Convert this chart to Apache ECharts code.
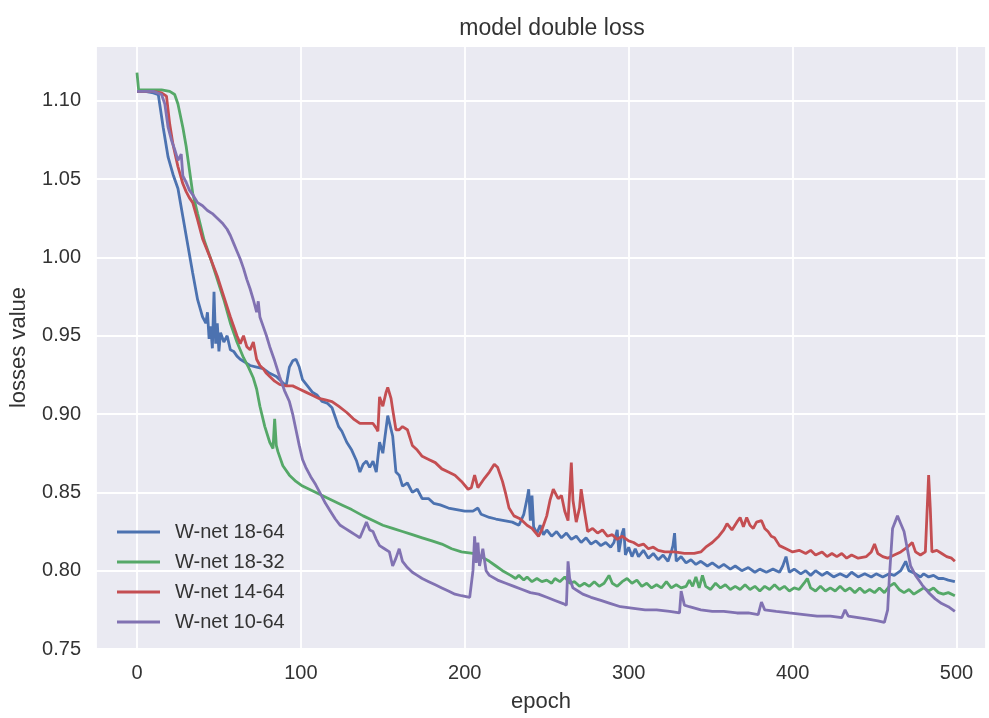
<!DOCTYPE html>
<html>
<head>
<meta charset="utf-8">
<title>model double loss</title>
<script src="https://cdn.jsdelivr.net/npm/echarts@6/dist/echarts.min.js"></script>
<style>
    html, body { margin: 0; padding: 0; background: #fff; }
    #main_chart { width: 989px; height: 718px; }
</style>
</head>
<body>
<div id="main_chart"></div>
<script>
// series names and colours (seaborn deep)
var seriesNames = ["W-net 18-64", "W-net 18-32", "W-net 14-64", "W-net 10-64"];
var seriesColors = ["#4C72B0", "#55A868", "#C44E52", "#8172B2"];

// [epoch, loss]
var blueLoss = [
    [0,1.106],[5,1.106],[10,1.105],[13,1.104],[16,1.083],[19,1.064],[22,1.053],[25,1.044],[28,1.026],[31,1.008],
    [34,0.990],[37,0.973],[40,0.962],[42,0.958],[43,0.965],[44,0.948],[45,0.956],[46,0.942],[47,0.978],[48,0.945],
    [49,0.958],[50,0.940],[51,0.952],[53,0.946],[55,0.950],[57,0.941],[59,0.940],[61,0.937],[63,0.935],[66,0.933],
    [69,0.931],[73,0.930],[77,0.929],[81,0.926],[85,0.924],[89,0.920],[91,0.918],[93,0.930],[95,0.934],[97,0.935],
    [99,0.930],[101,0.922],[104,0.918],[107,0.914],[110,0.912],[113,0.908],[116,0.907],[119,0.904],[121,0.898],[123,0.892],
    [125,0.889],[128,0.882],[131,0.877],[134,0.870],[136,0.863],[138,0.868],[140,0.870],[142,0.866],[144,0.870],[146,0.863],
    [148,0.882],[150,0.875],[153,0.899],[156,0.886],[158,0.863],[160,0.861],[162,0.854],[165,0.856],[168,0.850],[171,0.852],
    [174,0.846],[178,0.846],[181,0.843],[185,0.842],[190,0.840],[195,0.839],[200,0.838],[205,0.838],[208,0.840],[210,0.836],
    [215,0.834],[219,0.833],[224,0.832],[229,0.831],[233,0.829],[236,0.836],[238,0.846],[239,0.852],[240,0.832],[241,0.848],
    [242,0.828],[244,0.824],[246,0.829],[248,0.823],[250,0.826],[253,0.822],[256,0.825],[259,0.821],[262,0.824],[265,0.820],
    [268,0.822],[271,0.818],[274,0.821],[277,0.817],[280,0.819],[283,0.816],[286,0.818],[289,0.815],[291,0.818],[293,0.826],
    [294,0.812],[296,0.824],[297,0.827],[298,0.810],[300,0.815],[302,0.809],[304,0.814],[306,0.809],[309,0.813],[312,0.808],
    [315,0.811],[318,0.807],[321,0.810],[324,0.806],[326,0.812],[327,0.816],[328,0.824],[329,0.806],[332,0.809],[335,0.805],
    [338,0.807],[341,0.804],[344,0.806],[348,0.803],[351,0.805],[355,0.802],[358,0.804],[362,0.801],[365,0.803],[369,0.800],
    [373,0.802],[377,0.799],[380,0.801],[384,0.799],[388,0.801],[392,0.799],[394,0.803],[396,0.809],[398,0.799],[401,0.801],
    [405,0.798],[408,0.800],[411,0.797],[414,0.800],[418,0.797],[421,0.799],[425,0.796],[429,0.798],[433,0.796],[436,0.799],
    [440,0.796],[444,0.798],[448,0.796],[451,0.798],[455,0.796],[459,0.798],[462,0.797],[466,0.800],[469,0.806],[471,0.800],
    [475,0.798],[478,0.796],[480,0.798],[483,0.796],[486,0.797],[489,0.795],[492,0.795],[495,0.794],[499,0.793]
];
var greenLoss = [
    [0,1.118],[1,1.107],[5,1.107],[10,1.107],[15,1.107],[20,1.106],[23,1.104],[25,1.098],[28,1.083],[30,1.071],
    [32,1.056],[34,1.041],[37,1.028],[41,1.011],[45,0.999],[49,0.986],[53,0.973],[57,0.958],[61,0.946],[65,0.936],
    [68,0.930],[71,0.923],[73,0.916],[75,0.905],[78,0.892],[81,0.882],[83,0.878],[84,0.897],[85,0.880],[86,0.876],
    [89,0.867],[93,0.861],[97,0.857],[101,0.854],[107,0.851],[113,0.848],[119,0.845],[125,0.842],[131,0.839],[138,0.835],
    [144,0.832],[150,0.829],[156,0.827],[162,0.825],[168,0.823],[174,0.821],[180,0.819],[186,0.817],[192,0.814],[198,0.812],
    [205,0.811],[210,0.809],[215,0.806],[219,0.803],[223,0.800],[228,0.797],[231,0.795],[233,0.797],[236,0.794],[238,0.796],
    [241,0.793],[244,0.795],[247,0.793],[250,0.794],[253,0.792],[255,0.795],[258,0.793],[261,0.796],[264,0.792],[267,0.793],
    [270,0.790],[273,0.792],[276,0.790],[279,0.793],[282,0.790],[285,0.792],[288,0.797],[290,0.792],[293,0.790],[296,0.793],
    [299,0.795],[302,0.792],[305,0.794],[308,0.790],[311,0.792],[314,0.789],[317,0.791],[320,0.789],[323,0.793],[326,0.789],
    [329,0.791],[332,0.789],[335,0.790],[337,0.794],[339,0.790],[341,0.796],[343,0.789],[345,0.797],[347,0.790],[350,0.788],
    [353,0.792],[356,0.789],[359,0.791],[362,0.788],[365,0.790],[368,0.788],[371,0.791],[374,0.788],[377,0.790],[380,0.787],
    [383,0.790],[386,0.788],[389,0.791],[392,0.788],[395,0.790],[398,0.787],[401,0.789],[404,0.788],[407,0.792],[409,0.795],
    [411,0.789],[414,0.787],[417,0.790],[420,0.787],[423,0.789],[426,0.787],[429,0.790],[432,0.787],[435,0.789],[438,0.786],
    [441,0.789],[444,0.786],[447,0.788],[450,0.786],[453,0.789],[456,0.786],[459,0.790],[462,0.792],[465,0.788],[468,0.786],
    [471,0.788],[474,0.785],[477,0.787],[480,0.789],[483,0.787],[486,0.789],[489,0.786],[492,0.785],[495,0.786],[499,0.784]
];
var redLoss = [
    [0,1.106],[5,1.106],[10,1.106],[15,1.105],[18,1.103],[20,1.085],[22,1.072],[25,1.058],[28,1.047],[30,1.042],
    [32,1.038],[34,1.035],[37,1.024],[40,1.012],[45,0.999],[49,0.988],[53,0.975],[57,0.962],[61,0.950],[63,0.945],
    [65,0.950],[67,0.943],[69,0.941],[71,0.946],[73,0.935],[75,0.931],[77,0.929],[79,0.926],[81,0.924],[84,0.921],
    [87,0.919],[91,0.918],[95,0.918],[99,0.916],[103,0.914],[107,0.912],[111,0.910],[115,0.909],[119,0.908],[123,0.905],
    [128,0.901],[132,0.897],[136,0.894],[140,0.894],[144,0.894],[146,0.891],[147,0.889],[148,0.911],[150,0.905],[152,0.914],
    [153,0.917],[155,0.910],[156,0.903],[158,0.890],[160,0.890],[162,0.892],[165,0.890],[168,0.880],[171,0.877],[174,0.873],
    [178,0.871],[182,0.869],[186,0.865],[190,0.863],[194,0.861],[198,0.857],[202,0.852],[204,0.853],[206,0.861],[208,0.853],
    [210,0.856],[212,0.859],[215,0.863],[218,0.868],[220,0.866],[223,0.857],[225,0.849],[227,0.840],[230,0.835],[234,0.833],
    [238,0.829],[241,0.827],[245,0.822],[247,0.826],[250,0.835],[252,0.845],[254,0.852],[257,0.846],[259,0.848],[261,0.838],
    [263,0.832],[264,0.850],[265,0.869],[266,0.845],[268,0.831],[270,0.840],[271,0.852],[273,0.838],[275,0.825],[278,0.827],
    [281,0.824],[284,0.826],[287,0.822],[290,0.823],[293,0.820],[296,0.822],[300,0.819],[303,0.818],[306,0.816],[309,0.817],
    [312,0.814],[315,0.815],[318,0.813],[322,0.812],[328,0.812],[334,0.811],[340,0.811],[344,0.812],[347,0.815],[351,0.818],
    [355,0.822],[358,0.826],[360,0.830],[363,0.826],[366,0.831],[368,0.834],[370,0.828],[372,0.834],[374,0.829],[376,0.827],
    [378,0.831],[381,0.832],[383,0.827],[385,0.825],[387,0.822],[389,0.821],[392,0.816],[396,0.814],[400,0.812],[404,0.813],
    [408,0.811],[411,0.813],[414,0.810],[418,0.812],[421,0.809],[424,0.811],[427,0.809],[430,0.811],[433,0.808],[436,0.810],
    [440,0.808],[445,0.809],[448,0.812],[450,0.817],[452,0.811],[455,0.809],[458,0.808],[462,0.810],[466,0.812],[470,0.815],
    [473,0.818],[475,0.812],[478,0.810],[481,0.812],[483,0.861],[484,0.840],[485,0.812],[488,0.813],[491,0.811],[494,0.809],
    [497,0.808],[499,0.806]
];
var purpleLoss = [
    [0,1.106],[5,1.106],[10,1.106],[15,1.104],[17,1.098],[19,1.083],[21,1.075],[23,1.069],[25,1.062],[27,1.066],
    [28,1.052],[30,1.048],[32,1.043],[34,1.040],[37,1.035],[40,1.033],[43,1.030],[46,1.028],[49,1.025],[52,1.022],
    [55,1.018],[57,1.014],[59,1.009],[61,1.004],[63,0.999],[65,0.993],[67,0.986],[69,0.980],[71,0.973],[73,0.965],
    [74,0.972],[75,0.962],[77,0.956],[79,0.950],[81,0.943],[84,0.934],[87,0.924],[90,0.915],[93,0.908],[95,0.900],
    [97,0.890],[99,0.880],[101,0.871],[103,0.866],[106,0.860],[109,0.855],[112,0.849],[115,0.843],[118,0.838],[121,0.833],
    [124,0.829],[127,0.827],[130,0.825],[133,0.823],[136,0.821],[138,0.826],[140,0.831],[142,0.826],[144,0.825],[146,0.820],
    [148,0.816],[151,0.814],[154,0.812],[156,0.803],[158,0.808],[160,0.814],[162,0.806],[165,0.802],[168,0.799],[171,0.797],
    [174,0.795],[178,0.793],[182,0.791],[186,0.789],[190,0.787],[194,0.785],[198,0.784],[203,0.783],[205,0.800],[206,0.822],
    [207,0.805],[208,0.818],[209,0.803],[211,0.814],[213,0.800],[215,0.797],[220,0.794],[225,0.792],[230,0.790],[235,0.788],
    [240,0.786],[245,0.785],[250,0.783],[255,0.781],[260,0.779],[262,0.778],[263,0.806],[264,0.795],[266,0.789],[269,0.787],
    [272,0.785],[277,0.783],[283,0.781],[289,0.779],[295,0.777],[303,0.776],[310,0.775],[317,0.775],[325,0.774],[331,0.773],
    [332,0.787],[334,0.778],[337,0.777],[344,0.775],[351,0.774],[358,0.774],[366,0.773],[373,0.773],[379,0.772],[381,0.780],
    [383,0.775],[390,0.774],[398,0.773],[407,0.772],[415,0.771],[423,0.771],[430,0.770],[432,0.775],[434,0.771],[440,0.770],
    [446,0.769],[452,0.768],[456,0.767],[458,0.775],[459,0.795],[461,0.827],[464,0.835],[466,0.830],[468,0.825],[470,0.814],
    [472,0.803],[475,0.797],[479,0.791],[483,0.786],[487,0.782],[491,0.779],[495,0.777],[499,0.774]
];
var seriesData = [blueLoss, greenLoss, redLoss, purpleLoss];

var fontName = "Liberation Sans";
var textColor = "#333333";

function drawLossChart(){
    var chart = echarts.init(document.getElementById("main_chart"));
    var series = [];
    for(var i = 0; i < seriesNames.length; i++){
        series.push({
            name: seriesNames[i],
            type: 'line',
            data: seriesData[i],
            showSymbol: false,
            symbol: 'none',
            lineStyle: { color: seriesColors[i], width: 2.8 },
            itemStyle: { color: seriesColors[i] },
            z: 3
        });
    }
    var option = {
        animation: false,
        backgroundColor: '#ffffff',
        textStyle: { fontFamily: fontName },
        title: {
            text: 'model double loss',
            left: 547,
            top: 12,
            textAlign: 'center',
            textStyle: { fontFamily: fontName, fontSize: 23, fontWeight: 'normal', color: textColor }
        },
        legend: {
            data: seriesNames,
            orient: 'vertical',
            left: 112,
            top: 517,
            icon: 'rect',
            itemWidth: 43,
            itemHeight: 3,
            itemGap: 10,
            textStyle: { fontFamily: fontName, fontSize: 20, lineHeight: 20, color: textColor, padding: [0, 0, 0, 10] }
        },
        grid: {
            left: 96,
            right: 0,
            top: 46,
            bottom: 67,
            show: true,
            backgroundColor: '#EAEAF2',
            borderWidth: 0
        },
        xAxis: {
            type: 'value',
            min: -25,
            max: 518,
            splitNumber: 5,
            name: 'epoch',
            nameLocation: 'middle',
            nameGap: 42,
            nameTextStyle: { fontFamily: fontName, fontSize: 22, color: textColor },
            axisLine: { show: false },
            axisTick: { show: false },
            axisLabel: {
                fontFamily: fontName, fontSize: 20, color: textColor, margin: 14,
                formatter: function(v){ return v % 100 === 0 ? String(v) : ''; }
            },
            splitLine: { show: true, lineStyle: { color: '#ffffff', width: 1.8 } }
        },
        yAxis: {
            type: 'value',
            min: 0.75,
            max: 1.135,
            interval: 0.05,
            name: 'losses value',
            nameLocation: 'middle',
            nameGap: 66,
            nameRotate: 90,
            nameTextStyle: { fontFamily: fontName, fontSize: 22, color: textColor },
            axisLine: { show: false },
            axisTick: { show: false },
            axisLabel: {
                fontFamily: fontName, fontSize: 20, color: textColor, margin: 15,
                showMaxLabel: false,
                formatter: function(v){ return v.toFixed(2); }
            },
            splitLine: { show: true, lineStyle: { color: '#ffffff', width: 1.8 } }
        },
        series: series
    };
    chart.setOption(option, true);
}
drawLossChart();
</script>
</body>
</html>
